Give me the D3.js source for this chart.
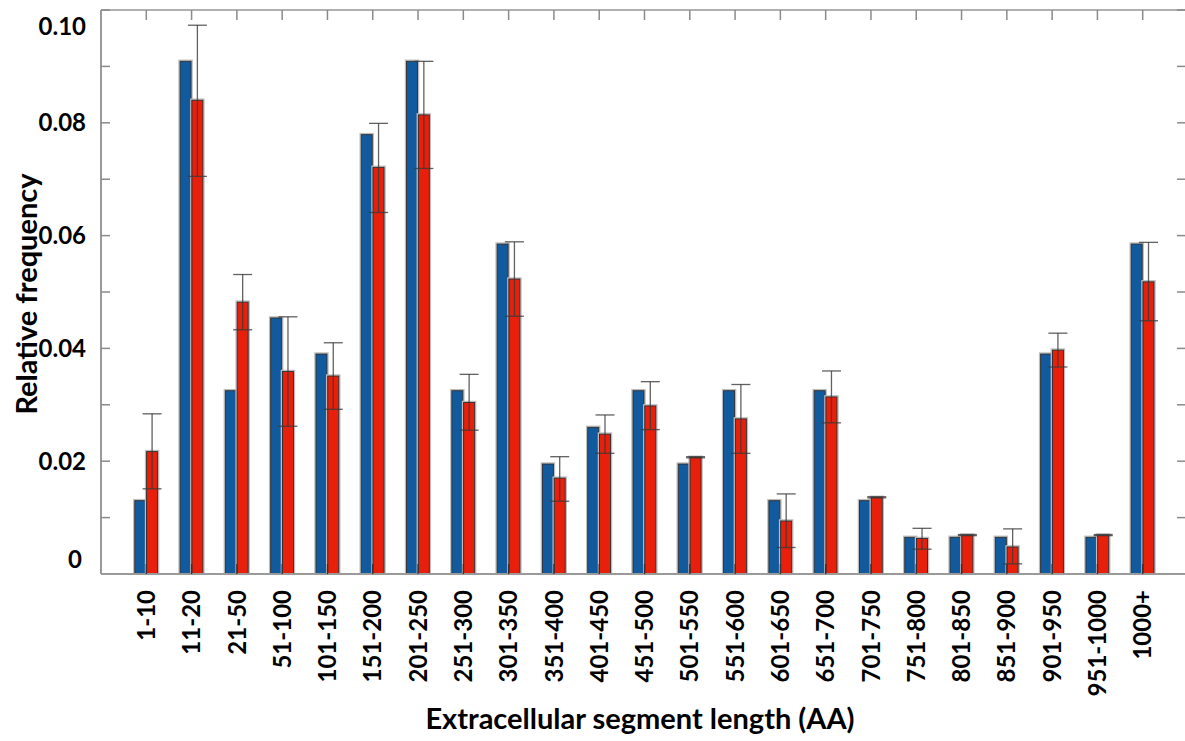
<!DOCTYPE html>
<html>
<head>
<meta charset="utf-8">
<script src="https://cdn.jsdelivr.net/npm/d3@7"></script>
<style>
  html, body { margin: 0; padding: 0; background: #fff; }
  svg { display: block; }
  text { font-family: Lato, "Open Sans", sans-serif; font-weight: bold; fill: #000; }
</style>
</head>
<body>
<svg id="chart" width="1185" height="741"></svg>
<script>
// Extracellular segment length bins
const categories = ["1-10", "11-20", "21-50", "51-100", "101-150", "151-200", "201-250",
  "251-300", "301-350", "351-400", "401-450", "451-500", "501-550", "551-600", "601-650",
  "651-700", "701-750", "751-800", "801-850", "851-900", "901-950", "951-1000", "1000+"];

// Observed relative frequency (blue)
const observed = [0.0130, 0.0909, 0.0325, 0.0454, 0.0390, 0.0779, 0.0909, 0.0325, 0.0585,
  0.0195, 0.0260, 0.0325, 0.0195, 0.0325, 0.0130, 0.0325, 0.0130, 0.0065, 0.0065, 0.0065,
  0.0390, 0.0065, 0.0585];

// Expected relative frequency (red) with lower / upper error bounds
const expected = [0.0217, 0.0840, 0.0482, 0.0359, 0.0351, 0.0721, 0.0814, 0.0304, 0.0523,
  0.0170, 0.0248, 0.0298, 0.0207, 0.0275, 0.0094, 0.0314, 0.0136, 0.0063, 0.0069, 0.0048,
  0.0397, 0.0069, 0.0518];
const errLow = [0.0151, 0.0705, 0.0433, 0.0262, 0.0292, 0.0641, 0.0719, 0.0255, 0.0457,
  0.0129, 0.0214, 0.0256, 0.0206, 0.0214, 0.0047, 0.0268, 0.0135, 0.0044, 0.0068, 0.0018,
  0.0367, 0.0068, 0.0449];
const errHigh = [0.0284, 0.0973, 0.0531, 0.0456, 0.0410, 0.0799, 0.0909, 0.0354, 0.0589,
  0.0208, 0.0282, 0.0341, 0.0208, 0.0336, 0.0142, 0.0360, 0.0137, 0.0081, 0.0070, 0.0080,
  0.0427, 0.0070, 0.0588];

const yTickLabels = [0, 0.02, 0.04, 0.06, 0.08, 0.10];
const yMinorTicks = d3.range(0, 0.1001, 0.01);

const svg = d3.select("#chart");
const plotLeft = 101, plotRight = 1188, plotTop = 10, plotBottom = 574;

const x = d3.scaleBand().domain(categories).range([plotLeft, plotRight]).paddingInner(0).paddingOuter(0.5);
const y = d3.scaleLinear().domain([0, 0.1]).range([plotBottom, plotTop]);
const cx = c => x(c) + x.bandwidth() / 2;

const BLUE = "#125a9e", RED = "#e81f0a";
const barW = 11;

// Frame
const frame = svg.append("g");
frame.append("line").attr("x1", plotLeft).attr("x2", plotLeft).attr("y1", plotTop).attr("y2", plotBottom)
  .attr("stroke", "#9a9a9a").attr("stroke-width", 2);
frame.append("line").attr("x1", plotLeft).attr("x2", plotRight).attr("y1", plotTop).attr("y2", plotTop)
  .attr("stroke", "#b0b0b0").attr("stroke-width", 2);
frame.append("line").attr("x1", plotRight).attr("x2", plotRight).attr("y1", plotTop).attr("y2", plotBottom)
  .attr("stroke", "#9a9a9a").attr("stroke-width", 2);

// Left and right minor ticks
const yTicks = svg.append("g");
yTicks.selectAll("line.l").data(yMinorTicks.slice(1)).join("line")
  .attr("x1", plotLeft).attr("x2", plotLeft + 9)
  .attr("y1", d => y(d)).attr("y2", d => y(d))
  .attr("stroke", "#8a8a8a").attr("stroke-width", 1.5);
yTicks.selectAll("line.r").data(yMinorTicks.slice(1)).join("line")
  .attr("x1", plotRight - 11).attr("x2", plotRight)
  .attr("y1", d => y(d)).attr("y2", d => y(d))
  .attr("stroke", "#8a8a8a").attr("stroke-width", 1.5);

// Top ticks at category centres
svg.append("g").selectAll("line").data(categories).join("line")
  .attr("x1", d => cx(d)).attr("x2", d => cx(d))
  .attr("y1", plotTop).attr("y2", plotTop + 10)
  .attr("stroke", "#8a8a8a").attr("stroke-width", 1.5);

// Bars
const bars = svg.append("g");
function drawBars(values, offset, color) {
  const g = bars.append("g");
  // soft grey halo
  g.selectAll("rect.halo").data(categories).join("rect")
    .attr("x", d => cx(d) + offset - 1)
    .attr("y", (d, i) => y(values[i]) - 1)
    .attr("width", barW + 2)
    .attr("height", (d, i) => plotBottom - y(values[i]) + 1)
    .attr("fill", "none").attr("stroke", "#bdbdbd").attr("stroke-width", 1.5);
  g.selectAll("rect.bar").data(categories).join("rect")
    .attr("x", d => cx(d) + offset)
    .attr("y", (d, i) => y(values[i]))
    .attr("width", barW)
    .attr("height", (d, i) => plotBottom - y(values[i]))
    .attr("fill", color).attr("stroke", "#2a2a2a").attr("stroke-width", 0.9);
}
drawBars(observed, -11.5, BLUE);
drawBars(expected, 0.3, RED);

// Error bars on the red series
const err = svg.append("g").attr("stroke", "#3a3a3a").attr("stroke-opacity", 0.8).attr("stroke-width", 1.3);
const ex = c => cx(c) + 0.3 + barW / 2;
err.selectAll("line.v").data(categories).join("line")
  .attr("x1", d => ex(d)).attr("x2", d => ex(d))
  .attr("y1", (d, i) => y(errHigh[i])).attr("y2", (d, i) => y(errLow[i]));
err.selectAll("line.t").data(categories).join("line")
  .attr("x1", d => ex(d) - 9.5).attr("x2", d => ex(d) + 9.5)
  .attr("y1", (d, i) => y(errHigh[i])).attr("y2", (d, i) => y(errHigh[i]));
err.selectAll("line.b").data(categories).join("line")
  .attr("x1", d => ex(d) - 9.5).attr("x2", d => ex(d) + 9.5)
  .attr("y1", (d, i) => y(errLow[i])).attr("y2", (d, i) => y(errLow[i]));

// Bottom axis line and inward ticks
svg.append("line").attr("x1", plotLeft).attr("x2", plotRight).attr("y1", plotBottom).attr("y2", plotBottom)
  .attr("stroke", "#9a9a9a").attr("stroke-width", 2);
svg.append("g").selectAll("line").data(categories).join("line")
  .attr("x1", d => cx(d)).attr("x2", d => cx(d))
  .attr("y1", plotBottom - 10).attr("y2", plotBottom)
  .attr("stroke", "#333").attr("stroke-width", 1.3);

// Y tick labels (end labels nudged inside the frame)
svg.append("g").selectAll("text").data(yTickLabels).join("text")
  .attr("x", d => d === 0 ? 82 : 86)
  .attr("y", d => y(d) + (d === 0.1 ? 17 : d === 0 ? -14 : 0))
  .attr("dy", "0.35em")
  .attr("text-anchor", "end")
  .attr("font-size", 24)
  .text(d => d === 0 ? "0" : d3.format(".2f")(d));

// X tick labels, rotated
svg.append("g").selectAll("text").data(categories).join("text")
  .attr("transform", d => `translate(${cx(d)},590) rotate(-90)`)
  .attr("dy", "0.36em")
  .attr("text-anchor", "end")
  .attr("font-size", 24)
  .text(d => d);

// Axis titles
svg.append("text").attr("x", 640).attr("y", 729)
  .attr("text-anchor", "middle").attr("font-size", 29)
  .text("Extracellular segment length (AA)");
svg.append("text").attr("transform", "translate(37,294) rotate(-90)")
  .attr("text-anchor", "middle").attr("font-size", 29)
  .text("Relative frequency");
</script>
</body>
</html>
